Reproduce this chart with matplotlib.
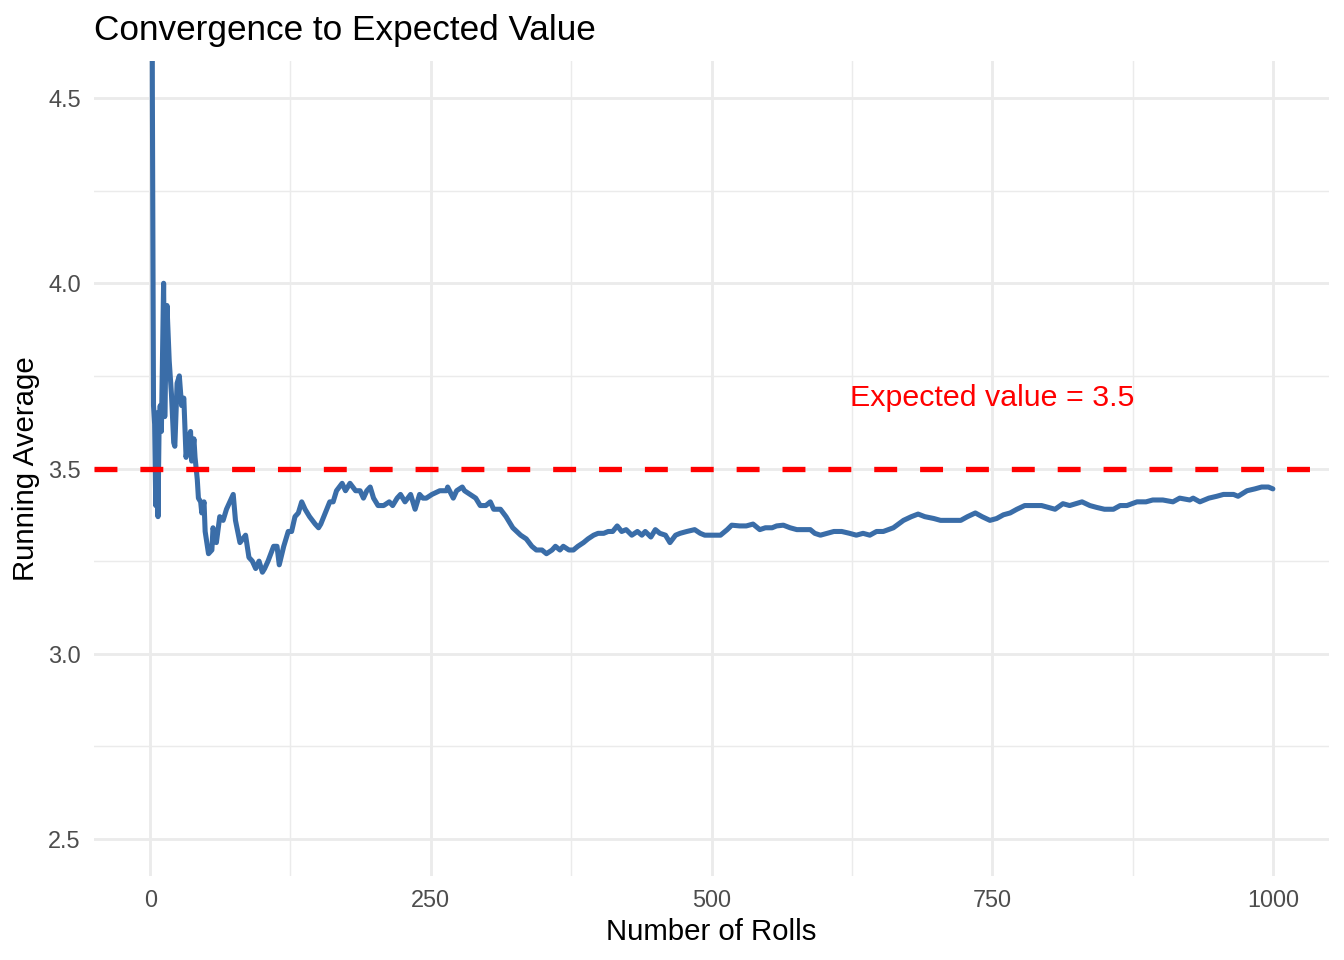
import matplotlib
matplotlib.use("Agg")
import matplotlib.pyplot as plt
from matplotlib.ticker import MultipleLocator

# running average of die rolls at sample points
rolls = [
    1, 2, 3, 4, 5, 6, 7, 8, 9, 10, 12, 13, 15, 17, 19, 21, 22, 24, 26, 28,
    30, 32, 34, 36, 37, 39, 40, 42, 43, 45, 46, 48, 49, 52, 55, 56, 59, 62,
    65, 68, 71, 74, 76, 80, 85, 88, 91, 94, 97, 100, 102, 105, 110, 113, 115,
    119, 123, 126, 129, 132, 135, 138, 142, 147, 150, 152, 156, 160, 163,
    166, 171, 174, 178, 183, 187, 190, 193, 196, 199, 203, 208, 213, 216,
    220, 223, 227, 232, 236, 240, 243, 246, 251, 258, 264, 265, 270, 273,
    278, 280, 285, 290, 294, 299, 303, 306, 312, 317, 323, 330, 335, 340,
    344, 349, 353, 358, 361, 365, 368, 373, 377, 381, 386, 390, 395, 399,
    404, 408, 412, 416, 420, 424, 429, 434, 438, 441, 446, 450, 454, 459,
    463, 468, 472, 478, 485, 490, 494, 500, 508, 514, 518, 525, 531, 537,
    543, 548, 554, 558, 564, 570, 576, 581, 588, 592, 597, 603, 609, 616,
    623, 629, 635, 641, 647, 653, 662, 671, 678, 684, 690, 698, 704, 710,
    718, 722, 728, 735, 741, 748, 754, 760, 766, 772, 779, 787, 794, 800,
    806, 813, 819, 830, 837, 843, 850, 858, 864, 870, 879, 887, 893, 902,
    911, 917, 926, 929, 935, 943, 950, 956, 965, 969, 977, 984, 990, 996,
    1000,
]
running_avg = [
    6.00, 4.50, 3.67, 3.62, 3.40, 3.65, 3.37, 3.62, 3.67, 3.60, 4.00, 3.64,
    3.94, 3.79, 3.70, 3.57, 3.56, 3.73, 3.75, 3.67, 3.69, 3.53, 3.58, 3.60,
    3.52, 3.58, 3.53, 3.47, 3.42, 3.41, 3.38, 3.41, 3.33, 3.27, 3.28, 3.34,
    3.30, 3.37, 3.36, 3.39, 3.41, 3.43, 3.36, 3.30, 3.32, 3.26, 3.25, 3.23,
    3.25, 3.22, 3.23, 3.25, 3.29, 3.29, 3.24, 3.29, 3.33, 3.33, 3.37, 3.38,
    3.41, 3.39, 3.37, 3.35, 3.34, 3.35, 3.38, 3.41, 3.41, 3.44, 3.46, 3.44,
    3.46, 3.44, 3.44, 3.42, 3.44, 3.45, 3.42, 3.40, 3.40, 3.41, 3.40, 3.42,
    3.43, 3.41, 3.43, 3.39, 3.43, 3.42, 3.42, 3.43, 3.44, 3.44, 3.45, 3.42,
    3.44, 3.45, 3.44, 3.43, 3.42, 3.40, 3.40, 3.41, 3.39, 3.39, 3.37, 3.34,
    3.32, 3.31, 3.29, 3.28, 3.28, 3.27, 3.28, 3.29, 3.28, 3.29, 3.28, 3.28,
    3.29, 3.30, 3.31, 3.32, 3.325, 3.325, 3.33, 3.33, 3.345, 3.33, 3.335,
    3.32, 3.33, 3.32, 3.33, 3.315, 3.335, 3.325, 3.32, 3.30, 3.32, 3.325,
    3.33, 3.335, 3.325, 3.32, 3.32, 3.32, 3.335, 3.347, 3.345, 3.345, 3.35,
    3.335, 3.34, 3.34, 3.345, 3.347, 3.34, 3.335, 3.335, 3.335, 3.325, 3.32,
    3.325, 3.33, 3.33, 3.325, 3.32, 3.325, 3.32, 3.33, 3.33, 3.34, 3.36,
    3.37, 3.377, 3.37, 3.365, 3.36, 3.36, 3.36, 3.36, 3.37, 3.38, 3.37, 3.36,
    3.365, 3.375, 3.38, 3.39, 3.40, 3.40, 3.40, 3.395, 3.39, 3.405, 3.40,
    3.41, 3.40, 3.395, 3.39, 3.39, 3.40, 3.40, 3.41, 3.41, 3.415, 3.415,
    3.41, 3.42, 3.415, 3.42, 3.41, 3.42, 3.425, 3.43, 3.43, 3.425, 3.44,
    3.445, 3.45, 3.45, 3.445,
]
expected = 3.5

plt.rcParams["font.family"] = ["Liberation Sans", "DejaVu Sans"]

fig = plt.figure(figsize=(7, 5), dpi=192)
ax = fig.add_axes([94 / 1344, 1 - 876 / 960, (1329 - 94) / 1344, (876 - 61) / 960])

ax.plot(rolls, running_avg, color="#3A6DA8", linewidth=1.9,
        solid_joinstyle="round", solid_capstyle="round", zorder=3)
ax.axhline(expected, color="#FF0000", linewidth=2.0, dashes=(4.3, 4.3), zorder=4)
ax.text(750, 3.69, "Expected value = 3.5", color="#FF0000", fontsize=11.4,
        ha="center", va="center")

ax.set_xlim(-50, 1050)
ax.set_ylim(2.4, 4.6)
ax.xaxis.set_major_locator(MultipleLocator(250))
ax.xaxis.set_minor_locator(MultipleLocator(125))
ax.yaxis.set_major_locator(MultipleLocator(0.5))
ax.yaxis.set_minor_locator(MultipleLocator(0.25))
ax.grid(which="major", color="#EBEBEB", linewidth=1.07)
ax.grid(which="minor", color="#EBEBEB", linewidth=0.53)
ax.set_axisbelow(True)
for s in ax.spines.values():
    s.set_visible(False)
ax.tick_params(which="both", length=0, pad=5, labelsize=8.8, labelcolor="#4D4D4D")

ax.set_xlabel("Number of Rolls", fontsize=11, labelpad=2)
ax.set_ylabel("Running Average", fontsize=11, labelpad=3)
ax.set_title("Convergence to Expected Value", loc="left", fontsize=13.2, pad=8)

fig.savefig("out.png", dpi=192)
